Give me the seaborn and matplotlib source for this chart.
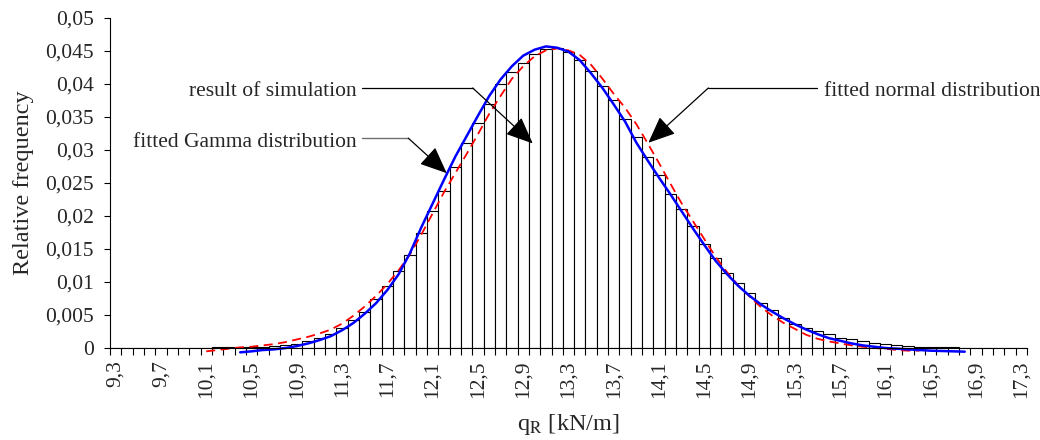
"""
Histogram of simulated load-bearing capacity q_R with fitted Gamma and normal curves.
"""

import matplotlib

matplotlib.use("Agg")
import matplotlib.pyplot as plt
import numpy as np
import pandas as pd
import seaborn as sns

# ── Data ──────────────────────────────────────────────────────────────

# class centres 9,3 ... 17,3 kN/m (step 0,1)
q_classes = [f"{v:.1f}".replace(".", ",") for v in np.round(np.arange(9.3, 17.35, 0.1), 1)]

# relative frequency of the simulation, one value per class
rel_freq = [
    0, 0, 0, 0, 0, 0, 0, 0, 0,                      # 9,3 - 10,1
    0.0001, 0.0001, 0.0001, 0.0001, 0.0002,         # 10,2 - 10,6
    0.0003, 0.0004, 0.0006, 0.0010, 0.0015,         # 10,7 - 11,1
    0.0021, 0.0031, 0.0042, 0.0055, 0.0074,         # 11,2 - 11,6
    0.0094, 0.0117, 0.0141, 0.0175, 0.0208,         # 11,7 - 12,1
    0.0238, 0.0275, 0.0311, 0.0341, 0.0369,         # 12,2 - 12,6
    0.0400, 0.0418, 0.0432, 0.0446, 0.0453,         # 12,7 - 13,1
    0.0454, 0.0448, 0.0437, 0.0420, 0.0397,         # 13,2 - 13,6
    0.0376, 0.0347, 0.0319, 0.0290, 0.0262,         # 13,7 - 14,1
    0.0233, 0.0210, 0.0185, 0.0158, 0.0136,         # 14,2 - 14,6
    0.0114, 0.0099, 0.0083, 0.0068, 0.0058,         # 14,7 - 15,1
    0.0045, 0.0037, 0.0031, 0.0026, 0.0021,         # 15,2 - 15,6
    0.0015, 0.0014, 0.0010, 0.0008, 0.0006,         # 15,7 - 16,1
    0.0005, 0.0003, 0.0002, 0.0002, 0.0001,         # 16,2 - 16,6
    0.0001, 0, 0, 0, 0, 0, 0,                       # 16,7 - 17,3
]

# fitted Gamma distribution, classes 10,4 - 16,8
gamma_classes = q_classes[11:76]
gamma_fit = [
    -0.00065, -0.0005, -0.0003, -0.0002, 0.0000, 0.0003, 0.0007, 0.0012,
    0.0018, 0.0027, 0.0038, 0.0052, 0.0068, 0.0088, 0.0112, 0.0144,
    0.0183, 0.0219, 0.0255, 0.0290, 0.0321, 0.0352, 0.0382, 0.0407,
    0.0427, 0.0443, 0.0452, 0.0457, 0.0455, 0.0449, 0.0436, 0.0416,
    0.0394, 0.0369, 0.0343, 0.0311, 0.0284, 0.0258, 0.0233, 0.0207,
    0.0181, 0.0156, 0.0132, 0.0112, 0.0094, 0.0079, 0.0066, 0.0055,
    0.0045, 0.0036, 0.0028, 0.0021, 0.0015, 0.0011, 0.0007, 0.0004,
    0.0002, 0.0000, -0.0001, -0.0002, -0.0003, -0.0004, -0.00045, -0.0005,
    -0.00055,
]

# fitted normal distribution, classes 10,1 - 16,4
normal_classes = q_classes[8:72]
normal_fit = [
    -0.0005, -0.0003, -0.0001, 0.0001, 0.0002, 0.0004, 0.0006, 0.0009,
    0.0013, 0.0017, 0.0022, 0.0028, 0.0037, 0.0049, 0.0063, 0.0079,
    0.0097, 0.0118, 0.0142, 0.0172, 0.0204, 0.0236, 0.0265, 0.0294,
    0.0324, 0.0355, 0.0382, 0.0408, 0.0427, 0.0442, 0.0451, 0.0454,
    0.0451, 0.0444, 0.0429, 0.0408, 0.0385, 0.0364, 0.0339, 0.0310,
    0.0280, 0.0249, 0.0219, 0.0192, 0.0165, 0.0138, 0.0115, 0.0095,
    0.0078, 0.0062, 0.0049, 0.0038, 0.0029, 0.0020, 0.0014, 0.0010,
    0.0007, 0.0004, 0.0002, 0.0000, -0.0001, -0.0003, -0.0004, -0.0004,
]

y_ticks = [0, 0.005, 0.01, 0.015, 0.02, 0.025, 0.03, 0.035, 0.04, 0.045, 0.05]

# ── Style ─────────────────────────────────────────────────────────────

sns.set_theme(style="ticks")
plt.rcParams["font.family"] = ["Liberation Serif", "DejaVu Serif"]
plt.rcParams["mathtext.fontset"] = "stix"
plt.rcParams["axes.linewidth"] = 0.8

FS = 15.5      # tick labels and annotations
FS_LAB = 17.5  # axis titles

# ── Figure ────────────────────────────────────────────────────────────

fig = plt.figure(figsize=(10.4, 4.4), dpi=100)
ax = fig.add_axes([0.1058, 0.209, 0.8817, 0.75])

hist = pd.DataFrame({"q": q_classes, "f": rel_freq})
sns.barplot(
    data=hist, x="q", y="f", order=q_classes, color="white",
    edgecolor="black", linewidth=0.8, width=1.0, saturation=1, ax=ax,
)
for p in ax.patches:
    p.set_facecolor("white")

pos = {c: i for i, c in enumerate(q_classes)}

sns.lineplot(
    x=[pos[c] for c in normal_classes], y=normal_fit, color="#ff0000",
    lw=1.3, linestyle=(0, (5, 3)), ax=ax,
)
sns.lineplot(
    x=[pos[c] for c in gamma_classes], y=gamma_fit, color="#0000ff",
    lw=1.8, ax=ax,
)
for ln in ax.lines:
    ln.set_clip_on(False)

ax.set_xlim(-0.5, len(q_classes) - 0.5)
ax.set_ylim(0, 0.05)

# tick marks at class boundaries, labels at every 4th class centre
ax.set_xticks(np.arange(len(q_classes) + 1) - 0.5)
ax.set_xticklabels([])
ax.set_xticks(np.arange(0, len(q_classes), 4), minor=True)
ax.set_xticklabels(q_classes[::4], minor=True, rotation=90, fontsize=FS)
ax.tick_params(axis="x", which="major", length=5, width=0.8, direction="out", color="black")
ax.tick_params(axis="x", which="minor", length=0, pad=9)

ax.set_yticks(y_ticks)
ax.set_yticklabels([("%g" % t).replace(".", ",") for t in y_ticks], fontsize=FS)
ax.tick_params(axis="y", length=4.5, width=0.8, direction="out", pad=7, color="black")

ax.set_xlabel(r"q$_\mathrm{R}$ [kN/m]", fontsize=FS_LAB, labelpad=10)
ax.set_ylabel("Relative frequency", fontsize=FS_LAB, labelpad=8)
sns.despine(ax=ax)
ax.spines["left"].set_color("black")
ax.spines["bottom"].set_color("black")

# ── Annotations ───────────────────────────────────────────────────────

head = dict(arrowstyle="-|>,head_length=1.4,head_width=0.6", lw=0.9, shrinkA=0, shrinkB=0)

# result of simulation
ax.text(21.3, 0.0388, "result of simulation", ha="right", va="center", fontsize=FS)
ax.plot([21.76, 31.54], [0.0394, 0.0394], color="black", lw=0.9, clip_on=False)
ax.annotate("", xy=(36.84, 0.0310), xytext=(31.54, 0.0394),
            arrowprops=dict(head, color="black"))

# fitted Gamma distribution
ax.text(21.3, 0.0312, "fitted Gamma distribution", ha="right", va="center", fontsize=FS)
ax.plot([21.76, 25.85], [0.0318, 0.0318], color="#707070", lw=1.0, clip_on=False)
ax.annotate("", xy=(29.24, 0.0265), xytext=(25.85, 0.0318),
            arrowprops=dict(head, color="black"))

# fitted normal distribution
ax.text(62.55, 0.0389, "fitted normal distribution", ha="left", va="center", fontsize=FS)
ax.plot([52.35, 61.93], [0.0394, 0.0394], color="black", lw=0.9, clip_on=False)
ax.annotate("", xy=(47.05, 0.0311), xytext=(52.35, 0.0394),
            arrowprops=dict(head, color="black"))

fig.savefig("out.png", dpi=100)
plt.close(fig)
